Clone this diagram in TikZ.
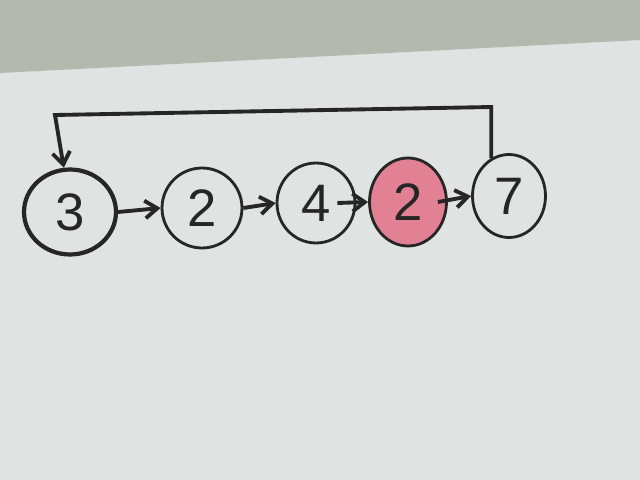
\documentclass[tikz,border=0pt]{standalone}
\usepackage{fontspec}
\setsansfont{Liberation Sans}
\usetikzlibrary{shapes.geometric,arrows.meta}
\definecolor{paper}{RGB}{223,227,225}
\definecolor{wall}{RGB}{180,185,176}
\definecolor{ink}{RGB}{38,38,38}
\definecolor{pinkfill}{RGB}{226,128,148}
\tikzset{
  numnode/.style={ellipse, draw=ink, line width=1.6pt, inner sep=0pt,
    font=\sffamily\fontsize{30}{34}\selectfont, text=ink},
  link/.style={draw=ink, line width=2.2pt, -{Straight Barb[length=7pt,width=10pt,line width=2.2pt]}},
}
\begin{document}
\begin{tikzpicture}[x=0.02cm,y=-0.02cm]
\useasboundingbox (0,0) rectangle (640,480);
\fill[paper] (0,0) rectangle (640,480);
\fill[wall] (0,0) -- (640,0) -- (640,40) -- (0,73) -- cycle;
\node[numnode, line width=2.4pt, minimum width=1.84cm, minimum height=1.7cm] (c1) at (70,212) {3};
\node[numnode, minimum width=1.6cm, minimum height=1.6cm] (c2) at (202,208) {2};
\node[numnode, minimum width=1.56cm, minimum height=1.6cm] (c3) at (316,203) {4};
\node[numnode, fill=pinkfill, minimum width=1.54cm, minimum height=1.76cm] (c4) at (408,202) {2};
\node[numnode, minimum width=1.46cm, minimum height=1.66cm] (c5) at (509,196) {7};
\draw[link] (c1.east) -- (c2.west);
\draw[link] (c2.east) -- (c3.west);
\draw[link] ([xshift=-0.38cm]c3.east) -- (c4.west);
\draw[link] ([xshift=-0.2cm]c4.east) -- (c5.west);
\coordinate (tr) at (485,107);
\coordinate (tl) at (55,115);
\draw[link] (c5.115) -- (c5.115 |- tr) -- (tl) -- (c1.98);
\end{tikzpicture}
\end{document}
